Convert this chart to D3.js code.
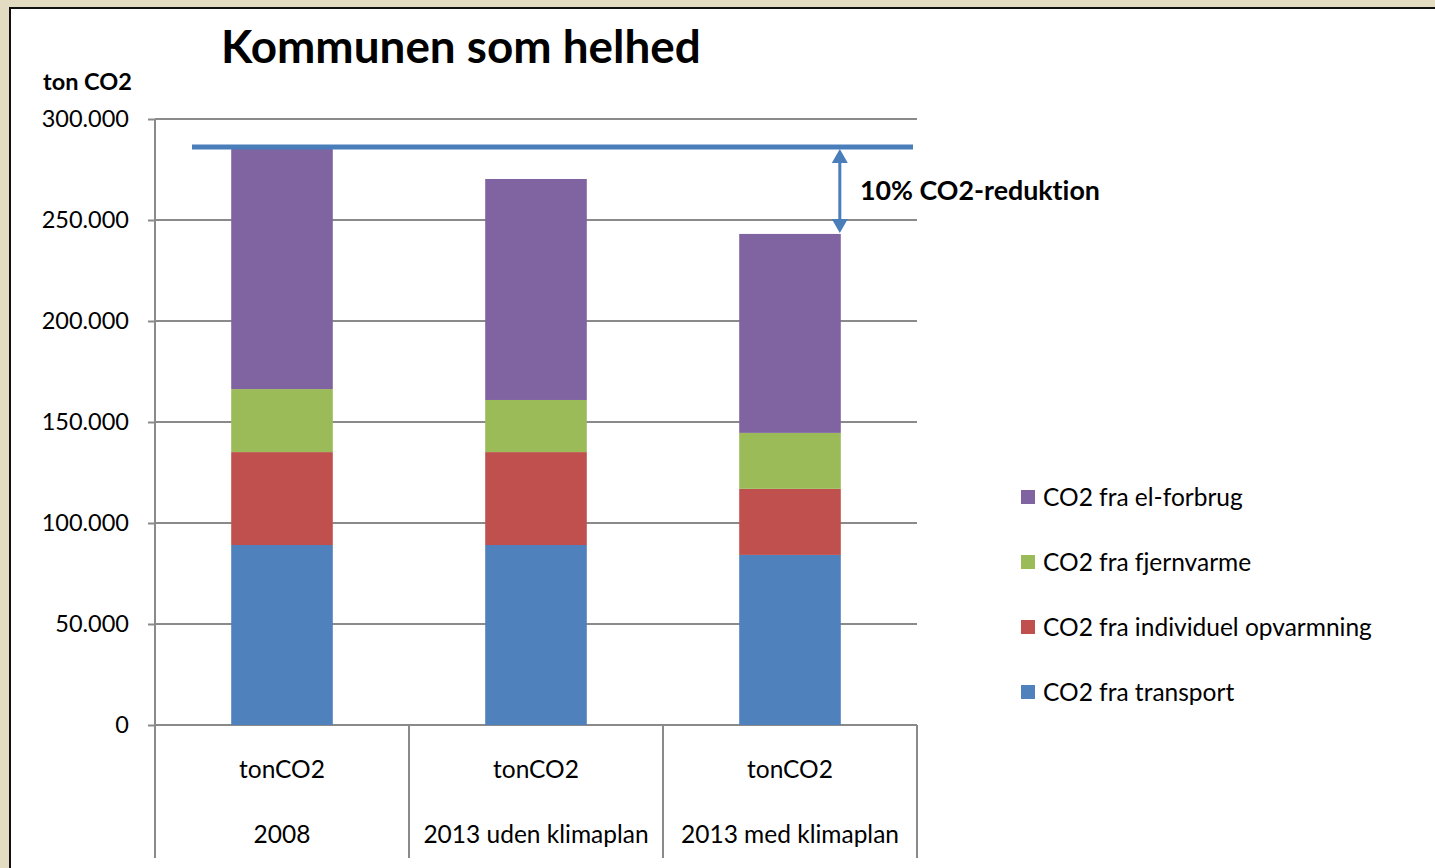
<!DOCTYPE html>
<html>
<head>
<meta charset="utf-8">
<script src="https://cdn.jsdelivr.net/npm/d3@7/dist/d3.min.js"></script>
<style>
  html, body { margin: 0; padding: 0; background: #e3dcc2; }
  svg { display: block; font-family: Lato, "Open Sans", sans-serif; font-variant-ligatures: none; }
</style>
</head>
<body>
<svg id="chart" width="1435" height="868"></svg>
<script>
// data
const categories = ["2008", "2013 uden klimaplan", "2013 med klimaplan"];
const subLabel = "tonCO2";
const transport = [89100, 89100, 84200];
const individuel = [46000, 46000, 32700];
const fjernvarme = [31200, 25800, 27700];
const elForbrug = [119800, 109400, 98500];
const yTicks = [0, 50000, 100000, 150000, 200000, 250000, 300000];

const series = [
  { key: "transport", name: "CO2 fra transport", color: "#4f81bd", values: transport },
  { key: "individuel", name: "CO2 fra individuel opvarmning", color: "#c0504d", values: individuel },
  { key: "fjernvarme", name: "CO2 fra fjernvarme", color: "#9bbb59", values: fjernvarme },
  { key: "el", name: "CO2 fra el-forbrug", color: "#8064a2", values: elForbrug },
];

const rows = categories.map((c, i) => {
  const r = { cat: c };
  series.forEach((s) => (r[s.key] = s.values[i]));
  return r;
});

const svg = d3.select("#chart");
const FS = 24.5; // body text size

// white chart panel with dark border
svg.append("rect").attr("x", 10).attr("y", 8).attr("width", 1440).attr("height", 880)
  .attr("fill", "#fff").attr("stroke", "#111").attr("stroke-width", 2);

const x = d3.scaleBand().domain(categories).range([155, 917]).paddingInner(0).paddingOuter(0);
const y = d3.scaleLinear().domain([0, 300000]).range([725, 119]);
const barW = x.bandwidth() * 0.4;

// gridlines + ticks
svg.append("g")
  .attr("transform", "translate(155,0)")
  .call(d3.axisLeft(y).tickValues(yTicks).tickSize(7).tickFormat((d) => d3.format(",")(d).replace(/,/g, ".")))
  .call((g) => g.select(".domain").remove())
  .call((g) => g.selectAll(".tick line").attr("stroke", "#8a8a8a").attr("stroke-width", 2))
  .call((g) => g.selectAll("text").attr("x", -26).attr("fill", "#000").attr("font-size", 23.5)
    .attr("font-family", "Lato, sans-serif"));

svg.append("g").selectAll("line").data(yTicks).join("line")
  .attr("x1", 155).attr("x2", 917)
  .attr("y1", (d) => y(d)).attr("y2", (d) => y(d))
  .attr("stroke", "#8a8a8a").attr("stroke-width", 2);

// stacked bars
const stack = d3.stack().keys(series.map((s) => s.key))(rows);
svg.append("g").selectAll("g").data(stack).join("g")
  .attr("fill", (d, i) => series[i].color)
  .selectAll("rect").data((d) => d).join("rect")
  .attr("x", (d) => x(d.data.cat) + (x.bandwidth() - barW) / 2)
  .attr("width", barW)
  .attr("y", (d) => y(d[1]))
  .attr("height", (d) => y(d[0]) - y(d[1]));

// y axis line and category dividers
svg.append("line").attr("x1", 155).attr("x2", 155).attr("y1", 119).attr("y2", 858)
  .attr("stroke", "#8a8a8a").attr("stroke-width", 2);
const bounds = categories.map((c) => x(c)).concat([x.range()[1]]);
svg.append("g").selectAll("line").data(bounds.slice(1)).join("line")
  .attr("x1", (d) => d).attr("x2", (d) => d).attr("y1", 725).attr("y2", 858)
  .attr("stroke", "#8a8a8a").attr("stroke-width", 2);

// category labels
const catG = svg.append("g").attr("font-size", FS).attr("text-anchor", "middle").attr("fill", "#000");
catG.selectAll("text.sub").data(categories).join("text").attr("class", "sub")
  .attr("x", (d) => x(d) + x.bandwidth() / 2).attr("y", 778).text(subLabel);
catG.selectAll("text.cat").data(categories).join("text").attr("class", "cat")
  .attr("x", (d) => x(d) + x.bandwidth() / 2).attr("y", 843).text((d) => d);

// reference line at 2008 total and reduction arrow
const total = (i) => series.reduce((a, s) => a + s.values[i], 0);
const refY = y(total(0));
const lowY = y(total(2));
svg.append("line").attr("x1", 192).attr("x2", 913).attr("y1", refY).attr("y2", refY)
  .attr("stroke", "#4a7ebb").attr("stroke-width", 5);

const ax = x(categories[2]) + x.bandwidth() / 2 + barW / 2 - 1;
svg.append("line").attr("x1", ax).attr("x2", ax).attr("y1", refY + 10).attr("y2", lowY - 10)
  .attr("stroke", "#4a7ebb").attr("stroke-width", 3);
svg.append("path")
  .attr("d", `M${ax},${refY + 2}L${ax - 8},${refY + 16}L${ax + 8},${refY + 16}Z M${ax},${lowY - 1}L${ax - 8},${lowY - 15}L${ax + 8},${lowY - 15}Z`)
  .attr("fill", "#4a7ebb");
svg.append("text").attr("x", 860).attr("y", 200).attr("font-size", 26.8).attr("font-weight", 700)
  .text("10% CO2-reduktion");

// titles
svg.append("text").attr("x", 221).attr("y", 63).attr("font-size", 45.8).attr("font-weight", 700)
  .text("Kommunen som helhed");
svg.append("text").attr("x", 43).attr("y", 90).attr("font-size", 23.5).attr("font-weight", 700)
  .text("ton CO2");

// legend (reverse order, el-forbrug on top)
const legend = svg.append("g").selectAll("g").data(series.slice().reverse()).join("g")
  .attr("transform", (d, i) => `translate(1021,${497 + i * 65})`);
legend.append("rect").attr("x", 0).attr("y", -7).attr("width", 14).attr("height", 14)
  .attr("fill", (d) => d.color);
legend.append("text").attr("x", 22).attr("y", 8.5).attr("font-size", FS).text((d) => d.name);
</script>
</body>
</html>
